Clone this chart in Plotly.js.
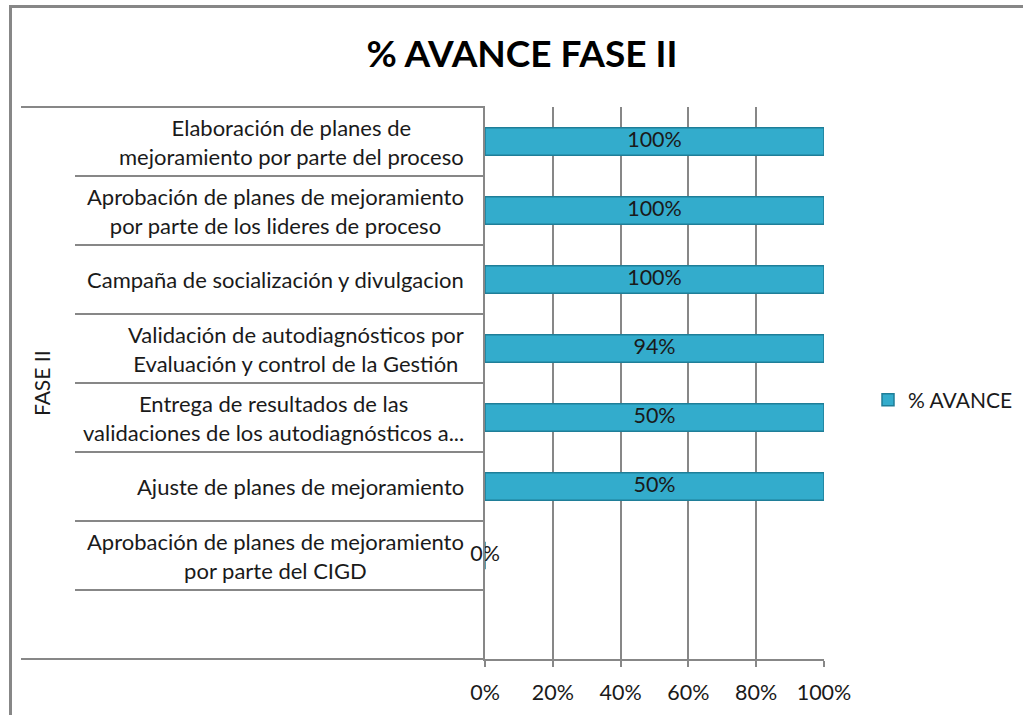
<!DOCTYPE html>
<html>
<head>
<meta charset="utf-8">
<script src="https://cdn.plot.ly/plotly-3.0.1.min.js"></script>
<style>
  html, body { margin: 0; padding: 0; background: #ffffff; overflow: hidden; }
  #frame { position: absolute; left: 9px; top: 5px; width: 1200px; height: 900px;
           border: 3px solid #878787; box-sizing: border-box; }
  #chart { position: absolute; left: 0; top: 0; width: 1023px; height: 715px; }
</style>
</head>
<body>
<div id="frame"></div>
<div id="chart"></div>
<script>
// ---- data ----
const categories = [
  "Elaboración de planes de<br>mejoramiento por parte del proceso",
  "Aprobación de planes de mejoramiento<br>por parte de los lideres de proceso",
  "Campaña de socialización y divulgacion",
  "Validación de autodiagnósticos por<br>Evaluación y control de la Gestión",
  "Entrega de resultados de las<br>validaciones de los autodiagnósticos a...",
  "Ajuste de planes de mejoramiento",
  "Aprobación de planes de mejoramiento<br>por parte del CIGD"
];
const barLength = [100, 100, 100, 100, 100, 100, 0];   // drawn bar lengths (%)
const labelText = ["100%", "100%", "100%", "94%", "50%", "50%", "0%"]; // data labels
const xTicks = [0, 20, 40, 60, 80, 100];
const seriesName = "% AVANCE";
const groupLabel = "FASE II";
const chartTitle = "% AVANCE FASE II";

// ---- layout constants ----
const FONT = "Lato, 'Open Sans', sans-serif";
const GRID = "#878787";
const TXT = "#1a1a1a";
const W = 1023, H = 715;
const L = 485, R = 824, T = 107, B = 659;
const pw = R - L;
const px2paperX = p => (p - L) / pw;

const idx = categories.map((c, i) => i);

const bars = {
  type: "bar",
  orientation: "h",
  name: seriesName,
  x: barLength,
  y: idx,
  width: 0.4,
  marker: { color: "#33ACCC", line: { color: "#1F7E98", width: 1.5 } },
  hoverinfo: "none"
};

const labels = {
  type: "scatter",
  mode: "text",
  x: barLength.map(v => v / 2),
  y: idx,
  text: labelText,
  textposition: "middle center",
  textfont: { family: FONT, size: 21.5, color: TXT },
  showlegend: false,
  cliponaxis: false,
  hoverinfo: "none"
};

const shapes = [];
// top and bottom long lines of the category area
shapes.push({ type: "line", xref: "paper", yref: "paper", x0: px2paperX(21), x1: 0, y0: 1, y1: 1,
              line: { color: GRID, width: 2 } });
shapes.push({ type: "line", xref: "paper", yref: "paper", x0: px2paperX(21), x1: 0, y0: 0, y1: 0,
              line: { color: GRID, width: 2 } });
// separators between categories
idx.forEach(i => {
  shapes.push({ type: "line", xref: "paper", yref: "y", x0: px2paperX(75), x1: 0, y0: i + 0.5, y1: i + 0.5,
                line: { color: GRID, width: 2 } });
});

const annotations = categories.map((c, i) => ({
  xref: "paper", yref: "y", x: px2paperX(466), y: i,
  xanchor: "right", yanchor: "middle", align: "center",
  text: c, showarrow: false,
  font: { family: FONT, size: 22, color: TXT }
}));
annotations.push({
  xref: "paper", yref: "paper", x: px2paperX(41), y: 0.5,
  xanchor: "center", yanchor: "middle", textangle: -90,
  text: groupLabel, showarrow: false,
  font: { family: FONT, size: 21, color: TXT }
});

const layout = {
  width: W, height: H,
  margin: { l: L, r: W - R, t: T, b: H - B, pad: 0, autoexpand: false },
  paper_bgcolor: "rgba(0,0,0,0)",
  plot_bgcolor: "rgba(0,0,0,0)",
  font: { family: FONT, size: 21, color: TXT },
  title: {
    text: "<b>" + chartTitle + "</b>",
    font: { family: FONT, size: 37, color: "#000000" },
    xref: "container", yref: "container",
    x: 522 / W, xanchor: "center",
    y: 1 - 54 / H, yanchor: "middle"
  },
  xaxis: {
    range: [0, 100],
    tickvals: xTicks,
    ticktext: xTicks.map(v => v + "%"),
    showgrid: true, gridcolor: GRID, gridwidth: 2,
    zeroline: false,
    showline: true, linecolor: GRID, linewidth: 2,
    ticks: "outside", ticklen: 6, tickwidth: 2, tickcolor: GRID,
    ticklabelstandoff: 7,
    tickfont: { family: FONT, size: 21.5, color: TXT },
    fixedrange: true
  },
  yaxis: {
    type: "linear",
    range: [categories.length + 0.5, -0.5],
    autorange: false,
    showgrid: false, zeroline: false,
    showline: true, linecolor: GRID, linewidth: 2,
    tickmode: "array",
    tickvals: idx.map(i => i - 0.5).concat([categories.length - 0.5]),
    ticks: "outside", ticklen: 5, tickwidth: 2, tickcolor: GRID,
    showticklabels: false,
    fixedrange: true
  },
  showlegend: true,
  legend: {
    x: px2paperX(868), xanchor: "left",
    y: (B - 400) / (B - T), yanchor: "middle",
    font: { family: FONT, size: 21, color: TXT },
    bgcolor: "rgba(0,0,0,0)"
  },
  shapes: shapes,
  annotations: annotations,
  bargap: 0.6
};

Plotly.newPlot("chart", [bars, labels], layout, { displayModeBar: false, staticPlot: true });
</script>
</body>
</html>
